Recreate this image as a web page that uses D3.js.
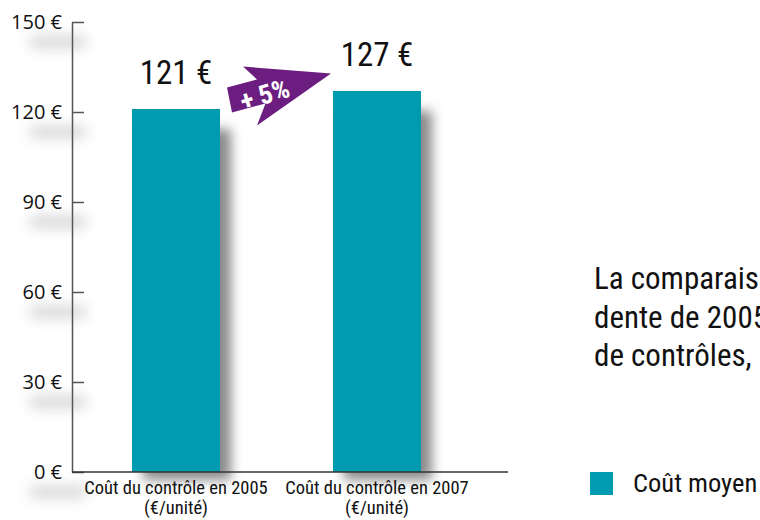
<!DOCTYPE html>
<html>
<head>
<meta charset="utf-8">
<script src="https://cdn.jsdelivr.net/npm/d3@7"></script>
<style>
  body { margin: 0; background: #fff; }
  svg { display: block; }
  .tick text { font-family: "Open Sans", sans-serif; font-size: 20px; fill: #111; }
  .narrow { font-family: "Liberation Sans Narrow", "Roboto Condensed", sans-serif; font-weight: 400; fill: #111; }
</style>
</head>
<body>
<div id="chart"></div>
<script>
// data
const categories = ["Coût du contrôle en 2005", "Coût du contrôle en 2007"];
const catSub = ["(€/unité)", "(€/unité)"];
const values = [121, 127];
const valueLabels = ["121 €", "127 €"];
const yTicks = [0, 30, 60, 90, 120, 150];
const changeLabel = "+ 5%";
const legendLabel = "Coût moyen";
const sideText = ["La comparais", "dente de 2005", "de contrôles,"];

const W = 760, H = 520;
const barColor = "#009BB1";
const arrowColor = "#6B1E80";

let svg = d3.select("#chart").append("svg")
    .attr("width", W)
    .attr("height", H);

// blur filters
let defs = svg.append("defs");
defs.append("filter").attr("id", "blur-shadow")
    .attr("x", "-50%").attr("y", "-50%").attr("width", "200%").attr("height", "200%")
    .append("feGaussianBlur").attr("stdDeviation", 6);
defs.append("filter").attr("id", "blur-soft")
    .attr("x", "-50%").attr("y", "-150%").attr("width", "200%").attr("height", "400%")
    .append("feGaussianBlur").attr("stdDeviation", 7);

// scales
let y = d3.scaleLinear()
    .domain([0, 150])
    .range([472, 22]);

let x = d3.scaleBand()
    .domain(categories)
    .range([75.5, 477.5])
    .paddingInner(0.562)
    .paddingOuter(0.281);

let axisX0 = 72, axisX1 = 508;

// faint blobs under tick labels
svg.append("g")
    .selectAll("rect")
    .data(yTicks)
    .join("rect")
    .attr("x", 30)
    .attr("y", d => y(d) + 14)
    .attr("width", 56)
    .attr("height", 12)
    .attr("fill", "#d6d6d6")
    .attr("filter", "url(#blur-soft)");

// bar shadows
svg.append("g")
    .selectAll("rect")
    .data(values)
    .join("rect")
    .attr("x", (d, i) => x(categories[i]) + 11)
    .attr("y", d => y(d) + 20)
    .attr("width", x.bandwidth())
    .attr("height", d => y(0) - y(d) - 12)
    .attr("fill", "#8a8a8a")
    .attr("filter", "url(#blur-shadow)");

// bars
svg.append("g")
    .selectAll("rect")
    .data(values)
    .join("rect")
    .attr("x", (d, i) => x(categories[i]))
    .attr("y", d => y(d))
    .attr("width", x.bandwidth())
    .attr("height", d => y(0) - y(d))
    .attr("fill", barColor);

// y axis
let yAxis = svg.append("g")
    .attr("transform", `translate(${axisX0},0)`)
    .call(d3.axisLeft(y)
        .tickValues(yTicks)
        .tickFormat(d => d + " €")
        .tickSizeInner(-12)
        .tickSizeOuter(0)
        .tickPadding(10));
yAxis.selectAll("line, path").attr("stroke", "#555").attr("stroke-width", 1.5);

// x axis line
svg.append("line")
    .attr("x1", axisX0).attr("x2", axisX1)
    .attr("y1", y(0)).attr("y2", y(0))
    .attr("stroke", "#333").attr("stroke-width", 1.5);

// category labels
let catG = svg.append("g").attr("text-anchor", "middle");
catG.selectAll("text.cat")
    .data(categories)
    .join("text")
    .attr("class", "cat narrow")
    .attr("x", d => x(d) + x.bandwidth() / 2)
    .attr("y", 494)
    .attr("font-size", 18.5)
    .text(d => d);
catG.selectAll("text.sub")
    .data(catSub)
    .join("text")
    .attr("class", "sub narrow")
    .attr("x", (d, i) => x(categories[i]) + x.bandwidth() / 2)
    .attr("y", 514)
    .attr("font-size", 18.5)
    .text(d => d);

// value labels
svg.append("g")
    .selectAll("text")
    .data(values)
    .join("text")
    .attr("class", "narrow")
    .attr("text-anchor", "middle")
    .attr("x", (d, i) => x(categories[i]) + x.bandwidth() / 2)
    .attr("y", d => y(d) - 25)
    .attr("font-size", 33)
    .text((d, i) => valueLabels[i]);

// change arrow, anchored between the bars
let ax = (x(categories[0]) + x.bandwidth() + x(categories[1])) / 2;
let ay = y(d3.mean(values) + 0.5);
let arrowPts = [[-49.5, -11], [-19.5, -19], [-33.5, -32], [54.5, -25], [-19.5, 27], [-11, 5], [-44.5, 14]];
let arrowG = svg.append("g").attr("transform", `translate(${ax},${ay})`);
arrowG.append("polygon")
    .attr("points", arrowPts.map(p => p.join(",")).join(" "))
    .attr("fill", arrowColor);
arrowG.append("text")
    .attr("transform", "translate(-9,5) rotate(-17)")
    .attr("text-anchor", "middle")
    .attr("font-family", "Liberation Sans Narrow, Roboto Condensed, sans-serif")
    .attr("font-weight", "bold")
    .attr("font-size", 27)
    .attr("fill", "#fff")
    .text(changeLabel);

// side text (runs past the right edge, as in the source)
svg.append("g")
    .selectAll("text")
    .data(sideText)
    .join("text")
    .attr("class", "narrow")
    .attr("x", 594)
    .attr("y", (d, i) => 289 + i * 38.5)
    .attr("font-size", 31)
    .text(d => d);

// legend
svg.append("rect")
    .attr("x", 590).attr("y", 472)
    .attr("width", 23).attr("height", 23)
    .attr("fill", barColor);
svg.append("text")
    .attr("class", "narrow")
    .attr("x", 633)
    .attr("y", 492)
    .attr("font-size", 26.5)
    .text(legendLabel);
</script>
</body>
</html>
